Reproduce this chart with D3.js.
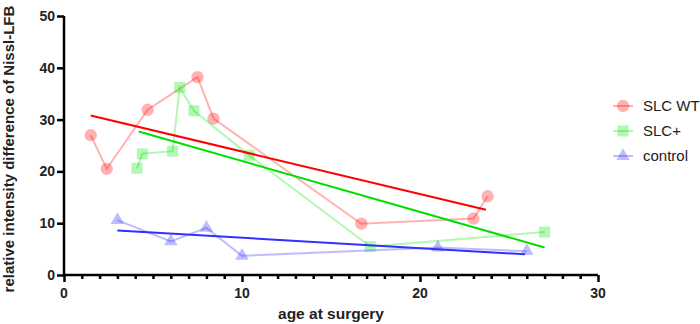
<!DOCTYPE html>
<html>
<head>
<meta charset="utf-8">
<script src="https://cdn.jsdelivr.net/npm/d3@7"></script>
<style>
  body { margin: 0; background: #fff; }
  svg text { font-family: "Liberation Sans", Arial, sans-serif; }
</style>
</head>
<body>
<div id="chart"></div>
<script>
// data
const wtAge = [1.5, 2.4, 4.7, 7.5, 8.4, 16.7, 23.0, 23.8];
const wtVal = [27.0, 20.5, 31.9, 38.2, 30.2, 9.9, 10.9, 15.2];
const plusAge = [4.1, 4.4, 6.1, 6.5, 7.3, 10.4, 17.2, 27.0];
const plusVal = [20.6, 23.4, 23.9, 36.2, 31.7, 23.1, 5.5, 8.3];
const ctrlAge = [3.0, 6.0, 8.0, 10.0, 21.0, 26.0];
const ctrlVal = [10.6, 6.5, 9.1, 3.7, 5.3, 4.6];

// fitted lines: [x0, y0, x1, y1]
const wtFit = [1.5, 30.8, 23.7, 12.6];
const plusFit = [4.2, 27.7, 27.0, 5.3];
const ctrlFit = [3.0, 8.6, 25.9, 4.0];

const xTicks = [0, 10, 20, 30];
const yTicks = [0, 10, 20, 30, 40, 50];

const series = [
  { name: "SLC WT", age: wtAge, val: wtVal, fit: wtFit, shape: d3.symbolCircle, size: 120, light: "rgba(255,0,0,0.3)", dark: "#ff0000" },
  { name: "SLC+", age: plusAge, val: plusVal, fit: plusFit, shape: d3.symbolSquare, size: 120, light: "rgba(0,230,0,0.3)", dark: "#00e000" },
  { name: "control", age: ctrlAge, val: ctrlVal, fit: ctrlFit, shape: d3.symbolTriangle, size: 80, light: "rgba(40,40,255,0.3)", dark: "#3030ff" }
];

const W = 700, H = 324;
const margin = { top: 16, right: 102, bottom: 49, left: 64 };

const svg = d3.select("#chart").append("svg")
  .attr("width", W).attr("height", H);

const x = d3.scaleLinear().domain([0, 30]).range([margin.left, W - margin.right]);
const y = d3.scaleLinear().domain([0, 50]).range([H - margin.bottom, margin.top]);

// x axis with minor ticks
const xAxis = svg.append("g").attr("transform", `translate(0,${H - margin.bottom})`);
xAxis.call(d3.axisBottom(x).tickValues(d3.range(0, 31, 1)).tickSize(4).tickFormat(""));
xAxis.call(g => g.selectAll(".tick").filter(d => d % 10 === 0).select("line").attr("y2", 7));
xAxis.select(".domain").attr("d", `M${x(0)},0H${x(30)}`);
xAxis.selectAll("line, path").attr("stroke", "#000").attr("stroke-width", 2.5);
xAxis.append("g").selectAll("text").data(xTicks).join("text")
  .attr("x", d => x(d)).attr("y", 23)
  .attr("text-anchor", "middle")
  .attr("font-size", 14).attr("font-weight", "bold").attr("fill", "#222")
  .text(d => d);

// y axis
const yAxis = svg.append("g").attr("transform", `translate(${margin.left},0)`);
yAxis.call(d3.axisLeft(y).tickValues(yTicks).tickSize(7).tickFormat(""));
yAxis.select(".domain").attr("d", `M0,${y(50)}V${y(0)}`);
yAxis.selectAll("line, path").attr("stroke", "#000").attr("stroke-width", 2.5);
yAxis.append("g").selectAll("text").data(yTicks).join("text")
  .attr("x", -9).attr("y", d => y(d)).attr("dy", "0.35em")
  .attr("text-anchor", "end")
  .attr("font-size", 14).attr("font-weight", "bold").attr("fill", "#222")
  .text(d => d);

// axis titles
svg.append("text")
  .attr("x", x(15)).attr("y", 319)
  .attr("text-anchor", "middle")
  .attr("font-size", 15.5).attr("font-weight", "bold").attr("fill", "#222")
  .text("age at surgery");

svg.append("text")
  .attr("transform", `translate(14,${149}) rotate(-90)`)
  .attr("text-anchor", "middle")
  .attr("font-size", 15).attr("font-weight", "bold").attr("fill", "#222")
  .text("relative intensity difference of Nissl-LFB");

const line = d3.line().x(d => x(d[0])).y(d => y(d[1]));

// connecting lines and markers
series.forEach(s => {
  const pts = s.age.map((a, i) => [a, s.val[i]]);
  svg.append("path")
    .datum(pts)
    .attr("d", line)
    .attr("fill", "none")
    .attr("stroke", s.light)
    .attr("stroke-width", 2);
  svg.append("g").selectAll("path").data(pts).join("path")
    .attr("transform", d => `translate(${x(d[0])},${y(d[1])})`)
    .attr("d", d3.symbol().type(s.shape).size(s.size))
    .attr("fill", s.light);
});

// fitted lines on top
series.forEach(s => {
  svg.append("path")
    .datum([[s.fit[0], s.fit[1]], [s.fit[2], s.fit[3]]])
    .attr("d", line)
    .attr("fill", "none")
    .attr("stroke", s.dark)
    .attr("stroke-width", 2);
});

// legend
const legend = svg.append("g").attr("transform", "translate(613,106)");
const item = legend.selectAll("g").data(series).join("g")
  .attr("transform", (d, i) => `translate(0,${i * 25})`);
item.append("line")
  .attr("x1", 0).attr("x2", 20)
  .attr("stroke", d => d.light).attr("stroke-width", 2);
item.append("path")
  .attr("transform", "translate(10,0)")
  .attr("d", d => d3.symbol().type(d.shape).size(d.size)())
  .attr("fill", d => d.light);
item.append("text")
  .attr("x", 30).attr("dy", "0.35em")
  .attr("font-size", 15).attr("fill", "#222")
  .text(d => d.name);
</script>
</body>
</html>
